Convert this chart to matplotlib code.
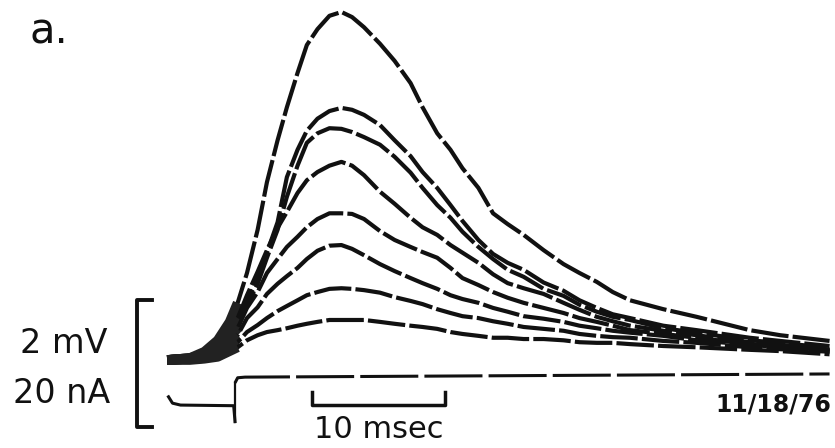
import numpy as np
import matplotlib
matplotlib.use("Agg")
import matplotlib.pyplot as plt

# time base shared by all voltage records (ms, 0 = current step)
t_ms = [-5.1, -3.4, -2.3, -1.3, -0.4, 0.2, 0.9, 1.7, 2.4, 3.2, 3.9, 4.7, 5.4, 6.2,
        7.1, 8.0, 8.8, 9.7, 10.9, 12.0, 13.2, 14.1, 15.2, 16.2, 17.1, 18.3, 19.4,
        20.5, 21.7, 23.2, 24.7, 25.9, 27.2, 28.4, 29.7, 32.2, 34.7, 38.7, 41.0, 44.7]

# membrane potential responses (mV above rest), largest to smallest
v1 = [0, 0.03, 0.13, 0.31, 0.60, 0.90, 1.37, 2.05, 2.80, 3.46, 3.98, 4.52, 4.96, 5.21,
      5.42, 5.48, 5.40, 5.24, 4.98, 4.71, 4.36, 3.98, 3.57, 3.31, 3.02, 2.71, 2.31,
      2.14, 1.97, 1.73, 1.51, 1.37, 1.23, 1.07, 0.94, 0.80, 0.68, 0.47, 0.39, 0.30]
v2 = [0, 0.03, 0.08, 0.20, 0.43, 0.60, 0.94, 1.26, 1.69, 2.17, 2.88, 3.31, 3.61, 3.80,
      3.92, 3.97, 3.94, 3.86, 3.70, 3.46, 3.21, 2.96, 2.71, 2.44, 2.19, 1.89, 1.67,
      1.53, 1.42, 1.22, 1.09, 0.94, 0.82, 0.72, 0.66, 0.54, 0.47, 0.35, 0.30, 0.22]
v3 = [0, 0.03, 0.08, 0.19, 0.38, 0.54, 0.87, 1.20, 1.61, 2.05, 2.57, 3.06, 3.42, 3.57,
      3.65, 3.64, 3.59, 3.51, 3.39, 3.20, 2.95, 2.71, 2.44, 2.24, 2.02, 1.78, 1.59,
      1.42, 1.31, 1.12, 1.01, 0.87, 0.76, 0.68, 0.63, 0.50, 0.43, 0.31, 0.27, 0.19]
v4 = [0, 0.02, 0.06, 0.19, 0.47, 0.66, 1.02, 1.39, 1.73, 2.08, 2.33, 2.63, 2.83, 2.96,
      3.06, 3.12, 3.06, 2.91, 2.65, 2.46, 2.24, 2.09, 1.97, 1.81, 1.69, 1.53, 1.35,
      1.21, 1.13, 1.04, 0.90, 0.79, 0.68, 0.61, 0.54, 0.46, 0.39, 0.28, 0.24, 0.16]
v5 = [0, 0.02, 0.05, 0.16, 0.36, 0.50, 0.82, 1.07, 1.37, 1.59, 1.78, 1.94, 2.09, 2.22,
      2.31, 2.31, 2.30, 2.22, 2.03, 1.89, 1.78, 1.70, 1.61, 1.45, 1.29, 1.18, 1.07,
      0.98, 0.90, 0.82, 0.74, 0.66, 0.60, 0.54, 0.47, 0.41, 0.35, 0.25, 0.22, 0.16]
v6 = [0, 0.02, 0.03, 0.11, 0.28, 0.39, 0.66, 0.83, 1.04, 1.20, 1.32, 1.45, 1.59, 1.72,
      1.80, 1.81, 1.75, 1.65, 1.51, 1.40, 1.29, 1.21, 1.12, 1.02, 0.96, 0.90, 0.82,
      0.76, 0.69, 0.65, 0.60, 0.54, 0.50, 0.46, 0.43, 0.38, 0.31, 0.24, 0.20, 0.14]
v7 = [0, 0.02, 0.03, 0.08, 0.20, 0.28, 0.44, 0.55, 0.66, 0.77, 0.85, 0.94, 1.02, 1.07,
      1.12, 1.13, 1.12, 1.10, 1.06, 0.99, 0.93, 0.88, 0.80, 0.74, 0.69, 0.66, 0.61,
      0.57, 0.52, 0.49, 0.46, 0.41, 0.38, 0.36, 0.35, 0.30, 0.27, 0.20, 0.17, 0.13]
v8 = [0, 0, 0.02, 0.05, 0.14, 0.20, 0.31, 0.39, 0.44, 0.47, 0.50, 0.54, 0.57, 0.60,
      0.63, 0.63, 0.63, 0.63, 0.60, 0.57, 0.54, 0.52, 0.49, 0.44, 0.41, 0.38, 0.35,
      0.35, 0.33, 0.33, 0.31, 0.28, 0.27, 0.27, 0.25, 0.22, 0.20, 0.16, 0.14, 0.09]
traces = [v1, v2, v3, v4, v5, v6, v7, v8]

# injected current monitor (nA relative to holding level)
i_t = [-5.0, -4.7, -4.1, -0.1, 0.0, 0.0, 0.2, 0.75, 44.7]
i_na = [1.4, 0.4, 0.1, 0.0, -2.5, 3.6, 4.4, 4.5, 5.0]
i_offset = -0.72      # where the current record sits on the voltage scale (mV)
mv_per_na = 0.1       # 20 nA drawn the same height as 2 mV

ink = "#111111"

fig = plt.figure(figsize=(8.35, 4.48), dpi=100)
ax = fig.add_axes([0, 0, 1, 1])
ax.set_xlim(-17.67, 45.11)
ax.set_ylim(-1.386, 5.669)
ax.axis("off")

t = np.array(t_ms)
for v in traces:
    v = np.array(v)
    ax.plot(t, v, color=ink, lw=3, ls=(0, (9, 1)), solid_capstyle="butt")
    # noisy resting level before the step shows up as a thick band
    pre = t <= 0.2
    ax.plot(t[pre], v[pre], color="#222222", lw=7, solid_capstyle="butt")

# current record: solid holding level, dashed after the step
i_y = i_offset + mv_per_na * np.array(i_na)
ax.plot(i_t[:5], i_y[:5], color=ink, lw=2.2)
ax.plot(i_t[4:6], i_y[4:6], color=ink, lw=1.6)
ax.plot(i_t[5:], i_y[5:], color=ink, lw=2.2, ls=(0, (19, 2)))

# 10 ms time bar
bar_x = [5.8, 5.8, 15.8, 15.8]
bar_y = [-0.50, -0.71, -0.71, -0.50]
ax.plot(bar_x, bar_y, color=ink, lw=2.5)
ax.text(10.8, -1.1, "10 msec", ha="center", va="center", fontsize=22, color=ink)

# calibration bracket: 2 mV / 20 nA
cal_x = [-6.25, -7.37, -7.37, -6.25]
cal_y = [0.945, 0.945, -1.055, -1.055]
ax.plot(cal_x, cal_y, color=ink, lw=2.8)
fig.text(108 / 835, 1 - 343 / 448, "2 mV", ha="right", va="center", fontsize=24, color=ink)
fig.text(110 / 835, 1 - 393 / 448, "20 nA", ha="right", va="center", fontsize=24, color=ink)

fig.text(30 / 835, 1 - 44 / 448, "a.", ha="left", va="baseline", fontsize=30, color=ink)
fig.text(831 / 835, 1 - 405 / 448, "11/18/76", ha="right", va="center",
         fontsize=17, fontweight="bold", color=ink)

fig.savefig("out.png", dpi=100)
